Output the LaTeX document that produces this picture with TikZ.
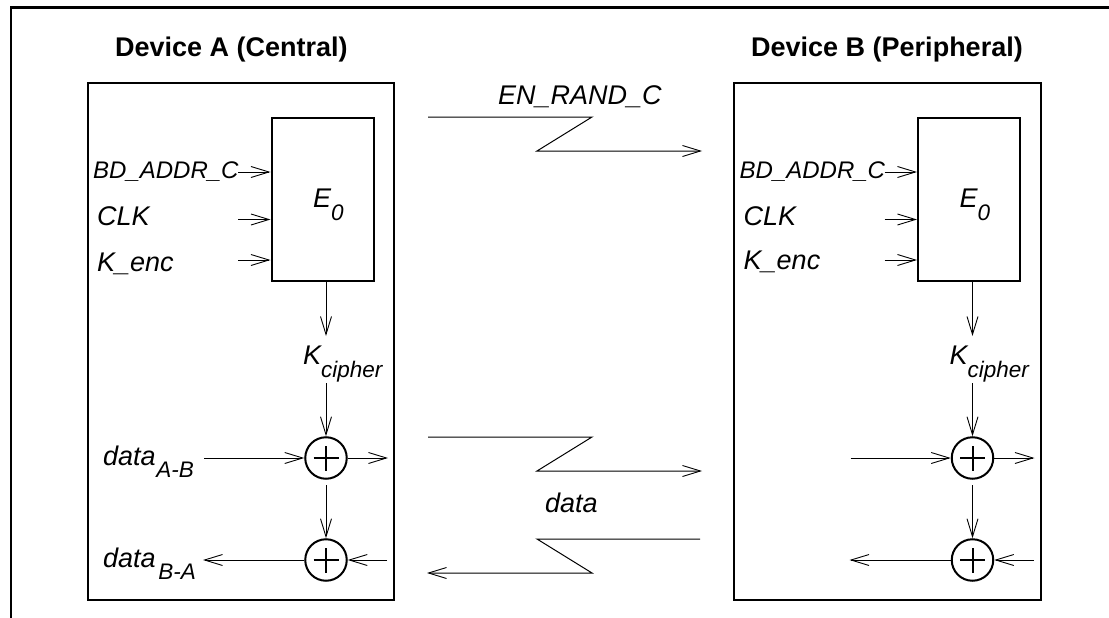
\documentclass[tikz,border=0pt]{standalone}
\usepackage{fontspec}
\setmainfont{Liberation Sans}
\usetikzlibrary{arrows.meta}
\tikzset{
  x=1pt,y=-1pt,
  frameline/.style={line width=2.2pt,black},
  boxline/.style={line width=2pt,draw=black,fill=none,inner sep=0pt},
  conn/.style={line width=1pt,black,-{Straight Barb[length=18pt,width=11pt,line width=0.9pt]}},
  xorshape/.style={circle,draw=black,line width=2pt,minimum size=41.5pt,inner sep=0pt},
  lab/.style={font=\fontsize{27}{30}\selectfont\itshape,inner sep=0pt,anchor=base west},
  bdlab/.style={font=\fontsize{24}{28}\selectfont\itshape,inner sep=0pt,anchor=base west},
  head/.style={font=\fontsize{27}{30}\selectfont\bfseries,inner sep=0pt,anchor=base west},
}
% base text with a lowered subscript: {base}{kern}{drop}{subscript}
\newcommand{\subbed}[4]{#1\kern#2pt\raisebox{-#3pt}{\fontsize{22.5}{26}\selectfont #4}}
\newcommand{\xorbars}[1]{\draw[line width=2pt] ([xshift=-12.5pt]#1.center) -- ([xshift=12.5pt]#1.center) ([yshift=-12.5pt]#1.center) -- ([yshift=12.5pt]#1.center);}
\newcommand{\device}[3]{%
  \begin{scope}[xshift=#1pt]
  \node[boxline,draw,minimum width=306.5pt,minimum height=517pt] (#2box) at (240.75,341.5) {};
  \node[boxline,draw,minimum width=102pt,minimum height=163.5pt] (#2e) at (322.5,199.25) {};
  \node[lab] (#2e0) at (313,207) {\subbed{E}{0}{13}{0}};
  \node[bdlab] (#2bd) at (93,178) {BD\_ADDR\_C};
  \node[lab] (#2clk) at (97,225) {CLK};
  \node[lab] (#2k) at (97,#3) {K\_enc};
  \coordinate (#2i1) at (238,172);
  \coordinate (#2i2) at (238,219.5);
  \coordinate (#2i3) at (238,260);
  \draw[conn] (#2i1) -- (#2i1-|#2e.west);
  \draw[conn] (#2i2) -- (#2i2-|#2e.west);
  \draw[conn] (#2i3) -- (#2i3-|#2e.west);
  \coordinate (#2karrow) at (326,336);
  \draw[conn] (#2e.south-|#2karrow) -- (#2karrow);
  \node[lab] (#2kc) at (303,364) {\subbed{K}{0}{13}{cipher}};
  \node[xorshape] (#2x1) at (326,458) {};
  \node[xorshape] (#2x2) at (326,560) {};
  \xorbars{#2x1}\xorbars{#2x2}
  \coordinate (#2kfrom) at (326,383);
  \draw[conn] (#2kfrom) -- (#2x1.north);
  \coordinate (#2xfrom) at (326,485);
  \draw[conn] (#2xfrom) -- (#2x2.north);
  \coordinate (#2in) at (204,458);
  \draw[conn] (#2in) -- (#2x1.west);
  \coordinate (#2out) at (388,458);
  \draw[conn] (#2x1.east) -- (#2out);
  \coordinate (#2back) at (387,560);
  \draw[conn] (#2back) -- (#2x2.east);
  \coordinate (#2left) at (203,560);
  \draw[conn] (#2x2.west) -- (#2left);
  \end{scope}}
\begin{document}
\begin{tikzpicture}
\useasboundingbox (0,0) rectangle (1109,618);
\coordinate (f1) at (11,618);
\coordinate (f2) at (11,7.5);
\coordinate (f3) at (1109,7.5);
\draw[frameline] (f1) -- (f2) -- (f3);
\node[head] (ha) at (115,57) {Device A (Central)};
\node[head] (hb) at (751,57) {Device B (Peripheral)};
\device{0}{a}{271}
\device{646.5}{b}{269}
\node[lab] (dab) at (103,465) {\subbed{data}{0.5}{12}{A-B}};
\node[lab] (dba) at (103,567) {\subbed{data}{2.5}{12}{B-A}};
\node[lab] (en) at (498,104) {EN\_RAND\_C};
\node[lab] (dt) at (545,512) {data};
\coordinate (z1a) at (428,117); \coordinate (z1b) at (592,117);
\coordinate (z1c) at (537,151); \coordinate (z1d) at (702,151);
\draw[conn] (z1a) -- (z1b) -- (z1c) -- (z1d);
\coordinate (z2a) at (428,437); \coordinate (z2b) at (592,437);
\coordinate (z2c) at (537,471); \coordinate (z2d) at (702,471);
\draw[conn] (z2a) -- (z2b) -- (z2c) -- (z2d);
\coordinate (z3a) at (700,539); \coordinate (z3b) at (537,539);
\coordinate (z3c) at (592,573); \coordinate (z3d) at (427,573);
\draw[conn] (z3a) -- (z3b) -- (z3c) -- (z3d);
\end{tikzpicture}
\end{document}
